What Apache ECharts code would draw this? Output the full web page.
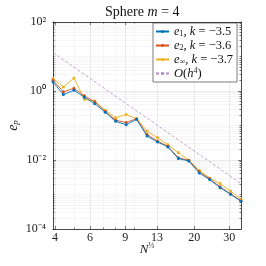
<!DOCTYPE html>
<html><head><meta charset="utf-8">
<script src="https://cdn.jsdelivr.net/npm/echarts@6/dist/echarts.min.js"></script>
<style>html,body{margin:0;padding:0;background:#fff}#c{width:266px;height:266px}</style>
</head><body><div id="c"></div>
<script>
// N^(1/3) values (x)
const nRoot = [3.91, 4.41, 4.98, 5.62, 6.34, 7.15, 8.07, 9.10, 10.27, 11.59, 13.07, 14.75, 16.64, 18.77, 21.18, 23.90, 26.96, 30.42, 34.32];
// errors
const e1 = [1.82, 0.787, 1.05, 0.657, 0.426, 0.241, 0.132, 0.106, 0.151, 0.0496, 0.0333, 0.0238, 0.0110, 0.00935, 0.00420, 0.00270, 0.00158, 0.00101, 0.000635];
const e2 = [2.04, 0.948, 1.20, 0.726, 0.486, 0.258, 0.142, 0.122, 0.158, 0.0545, 0.0356, 0.0249, 0.0116, 0.0098, 0.00455, 0.00285, 0.00167, 0.00105, 0.000656];
const eInf = [2.29, 1.31, 2.38, 0.574, 0.513, 0.276, 0.169, 0.207, 0.158, 0.0693, 0.0446, 0.0279, 0.0164, 0.0098, 0.00502, 0.00301, 0.00207, 0.00126, 0.000726];
// reference O(h^4) line end points
const refX = [3.91, 34.32];
const refY = [13.0, 0.00207];
// ticks
const xTicks = [4, 6, 9, 13, 20, 30];
const xTickLabels = ['4', '6', '9', '13', '20', '30'];
const xMinor = [5, 7, 8, 10];
const yTickExp = [-4, -2, 0, 2];
const yTickLabels = ['10⁻⁴', '10⁻²', '10⁰', '10²'];

const L = Math.log10;
const FONT = 'Liberation Serif';
const AX = '#262626';
const xMin = L(nRoot[0]), xMax = L(nRoot[nRoot.length - 1]);
const yMin = -4, yMax = 2;
const yMinor = [];
for (let d = -4; d < 2; d++) {
  for (let k = 1; k <= 9; k++) {
    const v = d + L(k);
    if (k === 1 && yTickExp.includes(d)) continue;
    yMinor.push(v);
  }
}
const pts = arr => nRoot.map((x, i) => [L(x), L(arr[i])]);
const xMajVals = xTicks.map(L);
const xMinVals = xMinor.map(L);

const lineAx = {show: true, onZero: false, lineStyle: {color: AX, width: 0.6}};
function xAx(pos, vals, len, split, labels) {
  return {
    type: 'value', min: xMin, max: xMax, position: pos,
    axisLine: lineAx,
    axisTick: {show: true, inside: true, length: len, customValues: vals, lineStyle: {color: AX, width: 0.6}},
    axisLabel: labels ? {customValues: vals, margin: 3, fontFamily: FONT, fontSize: 12, color: '#222',
      formatter: v => { const i = xMajVals.findIndex(t => Math.abs(t - v) < 1e-6); return i >= 0 ? xTickLabels[i] : ''; }} : {show: false},
    splitLine: split ? {show: true, lineStyle: split} : {show: false}
  };
}
function yAx(pos, vals, len, split, labels, isMajor) {
  const o = {
    type: 'value', min: yMin, max: yMax, position: pos,
    axisLine: lineAx,
    axisTick: {show: true, inside: true, length: len, lineStyle: {color: AX, width: 0.6}},
    axisLabel: labels ? {margin: 7, fontFamily: FONT, fontSize: 12, color: '#222',
      formatter: v => { const i = yTickExp.indexOf(Math.round(v)); return i >= 0 ? yTickLabels[i] : ''; }} : {show: false},
    splitLine: split ? {show: true, lineStyle: split} : {show: false}
  };
  if (isMajor) { o.interval = 2; } else { o.axisTick.customValues = vals; }
  return o;
}
const majSplit = {color: '#dedede', width: 0.6};
const minSplit = {color: '#f0f0f0', width: 0.6};

const xa = [
  xAx('bottom', xMajVals, 3, majSplit, true),
  xAx('top', xMajVals, 3, null, false),
  xAx('bottom', xMinVals, 1.5, minSplit, false),
  xAx('top', xMinVals, 1.5, null, false)
];
xa[0].name = '{i|N}{s|⅓}';
xa[0].nameLocation = 'middle';
xa[0].nameGap = 13;
xa[0].nameMoveOverlap = false;
xa[0].nameTextStyle = {rich: {
  i: {fontFamily: FONT, fontStyle: 'italic', fontSize: 13, color: '#222', lineHeight: 14, verticalAlign: 'bottom'},
  s: {fontFamily: FONT, fontSize: 8, color: '#222', verticalAlign: 'top', lineHeight: 8}
}};
const ya = [
  yAx('left', null, 3, majSplit, true, true),
  yAx('right', null, 3, null, false, true),
  yAx('left', yMinor, 1.5, minSplit, false, false),
  yAx('right', yMinor, 1.5, null, false, false)
];
ya[0].name = '{i|e}{s|p}';
ya[0].nameLocation = 'middle';
ya[0].nameGap = 33;
ya[0].nameMoveOverlap = false;
ya[0].nameRotate = 90;
ya[0].nameTextStyle = {rich: {
  i: {fontFamily: FONT, fontStyle: 'italic', fontSize: 14, color: '#222', lineHeight: 14},
  s: {fontFamily: FONT, fontStyle: 'italic', fontSize: 9, color: '#222', verticalAlign: 'bottom', lineHeight: 9}
}};

const legendNames = {
  e1: '{i|e}{s|1}{n|, }{i|k}{n| = −3.5}',
  e2: '{i|e}{s|2}{n|, }{i|k}{n| = −3.6}',
  einf: '{i|e}{s|∞}{n|, }{i|k}{n| = −3.7}',
  ref: '{i|O}{n|(}{i|h}{p|4}{n|)}'
};

const chart = echarts.init(document.getElementById('c'), null, {renderer: 'canvas'});
chart.setOption({
  animation: false,
  backgroundColor: '#fff',
  title: {
    text: '{n|Sphere }{i|m}{n| = 4}', left: 100, top: 0,
    textStyle: {fontWeight: 'normal', rich: {
      n: {fontFamily: FONT, fontSize: 14, fontWeight: 'normal', color: '#111'},
      i: {fontFamily: FONT, fontSize: 14, fontWeight: 'normal', fontStyle: 'italic', color: '#111'}
    }}
  },
  grid: {left: 53, right: 25, top: 22, bottom: 37, containLabel: false, outerBoundsMode: 'none'},
  xAxis: xa,
  yAxis: ya,
  legend: {
    orient: 'vertical', left: 153, top: 23,
    backgroundColor: '#fff', borderColor: AX, borderWidth: 0.6, borderRadius: 0,
    padding: [2, 4, 2, 2], itemGap: 1, itemWidth: 13, itemHeight: 4,
    data: ['e1', 'e2', 'einf', 'ref'],
    formatter: n => legendNames[n],
    textStyle: {rich: {
      n: {fontFamily: FONT, fontSize: 12.5, color: '#111', lineHeight: 13},
      i: {fontFamily: FONT, fontSize: 12.5, fontStyle: 'italic', color: '#111', lineHeight: 13},
      s: {fontFamily: FONT, fontSize: 8, color: '#111', verticalAlign: 'bottom', lineHeight: 8},
      p: {fontFamily: FONT, fontSize: 8, color: '#111', verticalAlign: 'top', lineHeight: 8}
    }}
  },
  series: [
    {name: 'e1', type: 'line', data: pts(e1), symbol: 'circle', symbolSize: 3, color: '#0072BD', lineStyle: {width: 0.9}, z: 5},
    {name: 'e2', type: 'line', data: pts(e2), symbol: 'circle', symbolSize: 3, color: '#D95319', lineStyle: {width: 0.9}, z: 4},
    {name: 'einf', type: 'line', data: pts(eInf), symbol: 'circle', symbolSize: 3, color: '#EDB120', lineStyle: {width: 0.9}, z: 3},
    {name: 'ref', type: 'line', data: refX.map((x, i) => [L(x), L(refY[i])]), symbol: 'none', color: '#B58BC4', lineStyle: {width: 0.8, type: [3, 2]}, z: 2}
  ]
});
</script></body></html>
